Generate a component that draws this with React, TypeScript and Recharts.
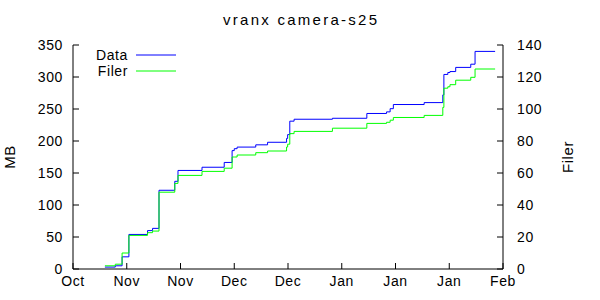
import React from "react"
import { LineChart, Line, XAxis, YAxis, Legend } from "recharts"

// day offsets (15 days per x tick), step positions
const days = [8.9, 11.8, 13.7, 15.6, 20.8, 22.2, 24.0, 28.4, 29.3, 36.0, 42.2, 44.4, 45.0, 45.8, 51.0, 54.3, 59.6, 59.9, 60.5, 61.7, 72.4, 82.0, 87.5, 88.5, 89.4, 98.0, 103.2, 103.5, 104.6, 105.2, 106.8, 111.0, 112.2, 117.8]
const mb = [3, 5, 19, 54, 60, 63.5, 123, 137, 154, 159, 166.5, 185, 188, 190.5, 194, 198, 204, 210, 231, 234, 235.5, 243, 245.5, 250.5, 257, 260, 272, 304, 307, 308.5, 315, 320, 340, 340]
const filer = [2, 3, 10, 21, 22.7, 23.7, 48, 53.5, 58.5, 61, 63, 70, 70, 71.25, 72.7, 73.75, 76.25, 78, 84.6, 86, 88, 91, 91.7, 93, 94.7, 96, 101, 113, 113.9, 115.2, 118, 119.8, 125, 125]

const xTicks = [0, 15, 30, 45, 60, 75, 90, 105, 120]
const xLabels = ["Oct", "Nov", "Nov", "Dec", "Dec", "Jan", "Jan", "Jan", "Feb"]
const mbTicks = [0, 50, 100, 150, 200, 250, 300, 350]
const filerTicks = [0, 20, 40, 60, 80, 100, 120, 140]

const data = days.map((d, i) => ({ day: d, Data: mb[i], Filer: filer[i] }))

const FONT = "'Liberation Sans', Arial, sans-serif"
const textStyle = { fontFamily: FONT, fontSize: 14, letterSpacing: 0.6, fill: "#000" }
const labelStyle = { fontFamily: FONT, fontSize: 15, letterSpacing: 0.6, fill: "#000", textAnchor: "middle" }

function LeftTick({ x, y, payload }: any) {
  return (
    <g>
      <text x={x} y={y} dy="0.36em" textAnchor="end" style={textStyle}>{payload.value}</text>
      <line x1={x + 10} x2={x + 16} y1={y} y2={y} stroke="#000" />
    </g>
  )
}

function RightTick({ x, y, payload }: any) {
  return (
    <g>
      <text x={x} y={y} dy="0.36em" textAnchor="start" style={textStyle}>{payload.value}</text>
      <line x1={x - 14} x2={x - 20} y1={y} y2={y} stroke="#000" />
    </g>
  )
}

function BottomTick({ x, y, payload, index }: any) {
  return (
    <g>
      <text x={x} y={y} dy="0.75em" textAnchor="middle" style={textStyle}>{xLabels[index] ?? payload.value}</text>
      <line x1={x} x2={x} y1={y - 6} y2={y - 12} stroke="#000" />
    </g>
  )
}

function TopTick({ x, y }: any) {
  return <line x1={x} x2={x} y1={y} y2={y + 6} stroke="#000" />
}

function KeyBox({ payload }: any) {
  return (
    <svg width={110} height={34}>
      {(payload || []).map((p: any, i: number) => (
        <g key={p.value}>
          <text x={48} y={9 + 16 * i} dy="0.36em" textAnchor="end" style={textStyle}>{p.value}</text>
          <line x1={56} x2={96} y1={9 + 16 * i} y2={9 + 16 * i} stroke={p.color} />
        </g>
      ))}
    </svg>
  )
}

export default function App() {
  return (
    <div style={{ position: "absolute", left: 0, top: 0, width: 600, height: 300, background: "#fff" }}>
      <LineChart width={600} height={300} data={data} margin={{ top: 45, right: 0, bottom: 0, left: 0 }}>
        <XAxis
          dataKey="day"
          type="number"
          domain={[0, 120]}
          ticks={xTicks}
          height={31}
          tickSize={0}
          tickMargin={6}
          tickLine={false}
          axisLine={{ stroke: "#000" }}
          tick={<BottomTick />}
          interval={0}
        />
        <XAxis
          xAxisId="top"
          dataKey="day"
          type="number"
          orientation="top"
          domain={[0, 120]}
          ticks={xTicks}
          height={0}
          tickSize={0}
          tickMargin={0}
          tickLine={false}
          axisLine={{ stroke: "#000" }}
          tick={<TopTick />}
          interval={0}
        />
        <YAxis
          yAxisId="mb"
          domain={[0, 350]}
          ticks={mbTicks}
          width={73}
          tickSize={0}
          tickMargin={10}
          tickLine={false}
          axisLine={{ stroke: "#000" }}
          tick={<LeftTick />}
          interval={0}
          label={{ value: "MB", angle: -90, position: "insideLeft", offset: 10, style: labelStyle }}
        />
        <YAxis
          yAxisId="filer"
          orientation="right"
          domain={[0, 140]}
          ticks={filerTicks}
          width={97}
          tickSize={0}
          tickMargin={14}
          tickLine={false}
          axisLine={{ stroke: "#000" }}
          tick={<RightTick />}
          interval={0}
          label={{ value: "Filer", angle: -90, position: "insideRight", offset: 32, style: labelStyle }}
        />
        <Legend
          layout="horizontal"
          verticalAlign="middle"
          align="center"
          wrapperStyle={{ position: "absolute", left: 80, top: 46, width: 110, height: 34 }}
          content={<KeyBox />}
        />
        <Line yAxisId="mb" dataKey="Data" name="Data" type="stepAfter" stroke="#0000ff" strokeWidth={1} dot={false} isAnimationActive={false} />
        <Line yAxisId="filer" dataKey="Filer" name="Filer" type="stepAfter" stroke="#00ff00" strokeWidth={1} dot={false} isAnimationActive={false} />
      </LineChart>
      <svg width={600} height={40} style={{ position: "absolute", left: 0, top: 0, pointerEvents: "none" }}>
        <text x={300} y={25} textAnchor="middle" textLength={154} lengthAdjust="spacing" style={{ fontFamily: FONT, fontSize: 15, fill: "#000" }}>
          vranx camera-s25
        </text>
      </svg>
    </div>
  )
}
